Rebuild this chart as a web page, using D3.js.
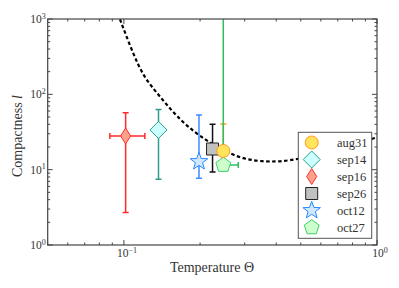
<!DOCTYPE html>
<html><head><meta charset="utf-8">
<script src="https://cdn.jsdelivr.net/npm/d3@7"></script>
<style>body{margin:0;background:#fff}svg{display:block}</style>
</head><body>
<script>
// ---- data ----
const names    = ["aug31","sep14","sep16","sep26","oct12","oct27"];
const theta    = [0.247, 0.137, 0.1016, 0.224, 0.198, 0.247];
const thetaLo  = [0.247, 0.137, 0.088, 0.224, 0.198, 0.247];
const thetaHi  = [0.247, 0.137, 0.121, 0.224, 0.198, 0.283];
const compact  = [17.7, 33.7, 28, 18.8, 12.8, 11.5];
const compLo   = [12, 7.45, 2.7, 9.3, 7.7, 11.5];
const compHi   = [40.4, 63, 57, 40, 53, 5000];
const lineCol  = ["#ff9a1a","#2e9c88","#ff2a2a","#111111","#3d8bff","#2cbf5e"];
const fillCol  = ["#ffe45c","#ccffff","#ffa08a","#c0c2c0","#cfe8ff","#ccffcc"];
const edgeCol  = ["#ff9a1a","#2e9c88","#ff3030","#222222","#2a86ff","#3ccf6a"];
const shapes   = ["circle","diamond","thin","square","star","pentagon"];
const curveTheta = [0.0965, 0.1073, 0.1193, 0.139, 0.1617, 0.197, 0.270, 0.345, 0.483, 0.98];
const curveL     = [991, 388, 171, 93, 50.5, 28, 14.9, 12.6, 12.8, 26.3];
const xTicks = [0.1, 1];
const xTickLabels = [["10","−1"],["10","0"]];
const yTicks = [1, 10, 100, 1000];
const yTickLabels = [["10","0"],["10","1"],["10","2"],["10","3"]];

const FONT = '"Liberation Serif"';
const W = 399, H = 288;
const m = {l:47.7, r:377, t:19, b:245};
const svg = d3.select("body").append("svg").attr("width",W).attr("height",H);
const x = d3.scaleLog().domain([0.05,1]).range([m.l,m.r]);
const y = d3.scaleLog().domain([1,1000]).range([m.b,m.t]);

svg.append("clipPath").attr("id","clip").append("rect")
  .attr("x",m.l).attr("y",m.t).attr("width",m.r-m.l).attr("height",m.b-m.t);

// curve
const line = d3.line().x(d=>x(d[0])).y(d=>y(d[1])).curve(d3.curveBasis);
svg.append("path").attr("clip-path","url(#clip)")
  .attr("d", line(curveTheta.map((t,i)=>[t,curveL[i]])))
  .attr("fill","none").attr("stroke","#000").attr("stroke-width",2.2).attr("stroke-dasharray","3.5,2.5");

function shapePath(s){
  if(s==="circle") return d3.symbol(d3.symbolCircle, Math.PI*6.5*6.5)();
  if(s==="diamond") return "M0,-8.5L8.5,0L0,8.5L-8.5,0Z";
  if(s==="thin") return "M0,-8L5,0L0,8L-5,0Z";
  if(s==="square") return "M-6,-6H6V6H-6Z";
  if(s==="star"){ let p=[]; for(let k=0;k<10;k++){const r=k%2?3.8:9.2;const a=-Math.PI/2+k*Math.PI/5;p.push([r*Math.cos(a),r*Math.sin(a)]);} return "M"+p.join("L")+"Z"; }
  if(s==="pentagon"){ let p=[]; for(let k=0;k<5;k++){const a=-Math.PI/2+k*2*Math.PI/5;p.push([7.8*Math.cos(a),7.8*Math.sin(a)]);} return "M"+p.join("L")+"Z"; }
}

const g = svg.append("g").attr("clip-path","url(#clip)");
const cap = 3;
names.forEach((n,i)=>{
  const c = lineCol[i], cx = x(theta[i]), cy = y(compact[i]);
  const eb = g.append("g").attr("stroke",c).attr("stroke-width",1.5);
  eb.append("line").attr("x1",cx).attr("x2",cx).attr("y1",y(compLo[i])).attr("y2",y(compHi[i]));
  if(compLo[i]<compact[i]) eb.append("line").attr("x1",cx-cap).attr("x2",cx+cap).attr("y1",y(compLo[i])).attr("y2",y(compLo[i]));
  eb.append("line").attr("x1",cx-cap).attr("x2",cx+cap).attr("y1",y(compHi[i])).attr("y2",y(compHi[i]));
  if(thetaHi[i]>thetaLo[i]){
    eb.append("line").attr("x1",x(thetaLo[i])).attr("x2",x(thetaHi[i])).attr("y1",cy).attr("y2",cy);
    if(thetaLo[i]<theta[i]) eb.append("line").attr("x1",x(thetaLo[i])).attr("x2",x(thetaLo[i])).attr("y1",cy-cap).attr("y2",cy+cap);
    eb.append("line").attr("x1",x(thetaHi[i])).attr("x2",x(thetaHi[i])).attr("y1",cy-cap).attr("y2",cy+cap);
  }
});
const order = [2,1,4,5,3,0];
order.forEach(i=>{
  g.append("path").attr("d",shapePath(shapes[i]))
   .attr("transform",`translate(${x(theta[i])},${y(compact[i])})`)
   .attr("fill",fillCol[i]).attr("stroke",edgeCol[i]).attr("stroke-width",1);
});

// frame & ticks
const ax = svg.append("g").attr("stroke","#444").attr("stroke-width",1);
function minorTicks(dom){ const out=[]; for(let e=-3;e<=3;e++) for(let k=1;k<=9;k++){const v=k*Math.pow(10,e); if(v>=dom[0]-1e-12&&v<=dom[1]+1e-12) out.push({v,major:k===1});} return out;}
minorTicks(x.domain()).forEach(t=>{
  const len = t.major?5:2.5, px=x(t.v);
  ax.append("line").attr("x1",px).attr("x2",px).attr("y1",m.b).attr("y2",m.b-len);
  ax.append("line").attr("x1",px).attr("x2",px).attr("y1",m.t).attr("y2",m.t+len);
});
minorTicks(y.domain()).forEach(t=>{
  const len = t.major?5:2.5, py=y(t.v);
  ax.append("line").attr("x1",m.l).attr("x2",m.l+len).attr("y1",py).attr("y2",py);
  ax.append("line").attr("x1",m.r).attr("x2",m.r-len).attr("y1",py).attr("y2",py);
});
svg.append("rect").attr("x",m.l).attr("y",m.t).attr("width",m.r-m.l).attr("height",m.b-m.t)
  .attr("fill","none").attr("stroke","#444").attr("stroke-width",1.2);

function powLabel(sel, lab){
  sel.append("tspan").text(lab[0]);
  sel.append("tspan").attr("dy",-4.5).attr("font-size","8px").text(lab[1]);
}
const TXT = "#333";
xTicks.forEach((t,i)=>{
  const tx = svg.append("text").attr("x",x(t)+3).attr("y",m.b+12).attr("text-anchor","middle").attr("font-family",FONT).attr("font-size","11.5px").attr("fill",TXT);
  powLabel(tx, xTickLabels[i]);
});
yTicks.forEach((t,i)=>{
  const tx = svg.append("text").attr("x",m.l-2).attr("y",y(t)+4).attr("text-anchor","end").attr("font-family",FONT).attr("font-size","11.5px").attr("fill",TXT);
  powLabel(tx, yTickLabels[i]);
});
svg.append("text").attr("x",212).attr("y",272).attr("text-anchor","middle").attr("font-family",FONT).attr("font-size","14px").attr("fill",TXT).text("Temperature Θ");
const yl = svg.append("text").attr("transform",`translate(22,136) rotate(-90)`).attr("text-anchor","middle").attr("font-family",FONT).attr("font-size","14px").attr("fill",TXT);
yl.append("tspan").text("Compactness ");
yl.append("tspan").attr("font-style","italic").text("l");

// legend
const lg = svg.append("g");
lg.append("rect").attr("x",298.3).attr("y",132.3).attr("width",73.4).attr("height",106).attr("fill","#fff").attr("stroke","#555").attr("stroke-width",1);
names.forEach((n,i)=>{
  const ly = 142.5 + i*17;
  lg.append("path").attr("d",shapePath(shapes[i])).attr("transform",`translate(311.7,${ly})`)
    .attr("fill",fillCol[i]).attr("stroke",edgeCol[i]).attr("stroke-width",1);
  lg.append("text").attr("x",337).attr("y",ly+4).attr("font-family",FONT).attr("font-size","12.5px").attr("fill",TXT).text(n);
});
</script>
</body></html>
